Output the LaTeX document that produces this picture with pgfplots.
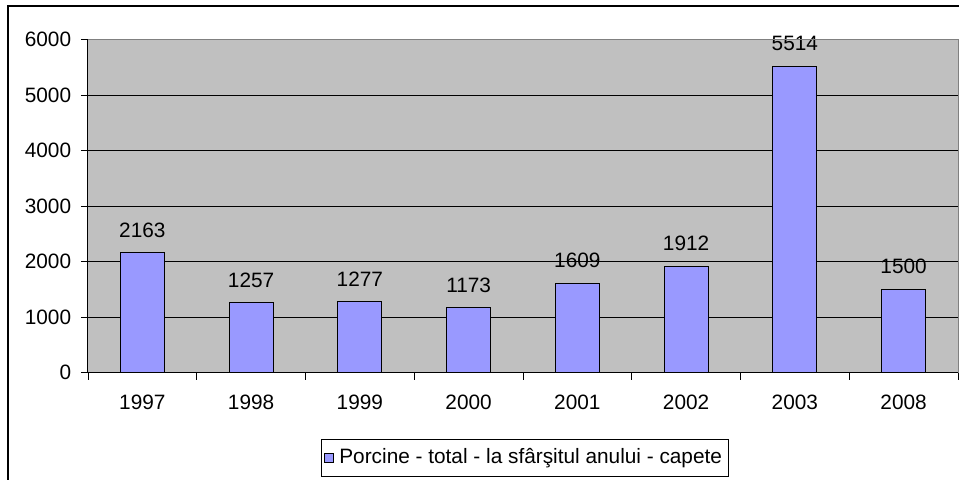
\documentclass[border=0pt]{standalone}
\usepackage{fontspec}
\setmainfont{Liberation Sans}
\usepackage{pgfplots}
\pgfplotsset{compat=1.18}
\definecolor{barblue}{HTML}{9999FF}
\definecolor{plotbg}{HTML}{C0C0C0}
\definecolor{bordergray}{HTML}{808080}
\newcommand{\cf}{\fontsize{15.6pt}{18pt}\selectfont}
\begin{document}
\cf
\begin{tikzpicture}
\useasboundingbox (0,0) rectangle (719.25pt,-359.25pt);
\draw[black, line width=0.9pt] (6pt,-4.5pt) rectangle (730pt,-370pt);
\begin{axis}[name=ax, at={(66pt,-279.5pt)}, anchor=south west,
  scale only axis, width=652.5pt, height=249.9pt,
  xmin=-0.5, xmax=7.5, ymin=0, ymax=6000,
  ytick={0,1000,...,6000},
  xtick={-0.5,0.5,...,7.5}, x tick label as interval,
  xticklabels={1997,1998,1999,2000,2001,2002,2003,2008},
  tick align=outside, major tick length=5.25pt,
  tick style={black, line width=0.6pt},
  axis x line*=bottom, axis y line*=left,
  axis line style={black, line width=0.75pt, -},
  axis background/.style={fill=plotbg},
  ymajorgrids, grid style={black, line width=0.6pt},
  /pgf/number format/assume math mode=true,
  /pgf/number format/1000 sep={},
  tick label style={font=\cf},
  yticklabel style={xshift=-2pt},
  xticklabel style={yshift=-6pt},
  ybar, bar width=33pt,
  nodes near coords,
  nodes near coords style={font=\cf, anchor=center, yshift=17pt, black},
  legend style={at={(0.5017,-0.2545)}, anchor=center, draw=black, line width=0.6pt,
    font=\cf, inner xsep=2.5pt, inner ysep=5pt},
  legend image code/.code={\draw[fill=barblue,draw=black,line width=0.6pt] (0pt,-3.4pt) rectangle (6.8pt,3.4pt);\path (8.6pt,0pt);},
]
\addplot[fill=barblue, draw=black, line width=0.9pt] coordinates {
 (0,2163) (1,1257) (2,1277) (3,1173) (4,1609) (5,1912) (6,5514) (7,1500)};
\addlegendentry{Porcine - total - la sfârşitul anului - capete}
\end{axis}
\draw[bordergray, line width=0.75pt] (ax.north west) -- (ax.north east) -- (ax.south east);
\end{tikzpicture}
\end{document}
